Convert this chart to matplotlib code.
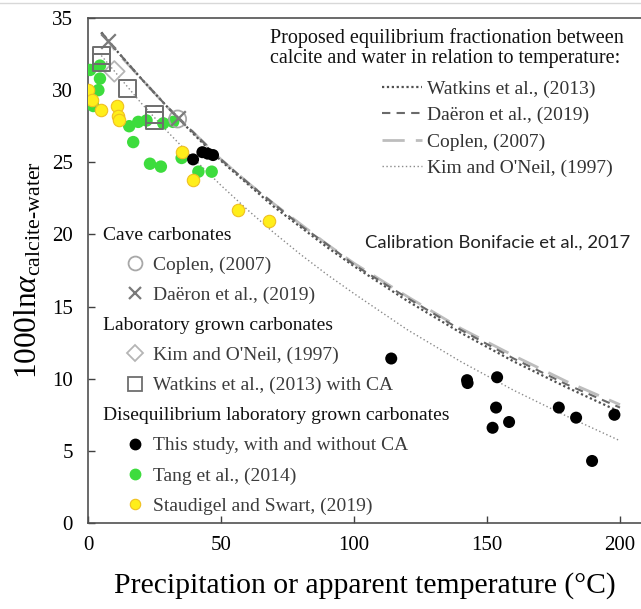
import matplotlib
matplotlib.use("Agg")
import matplotlib.pyplot as plt
from matplotlib.lines import Line2D

plt.rcParams['font.family'] = 'Liberation Serif'
plt.rcParams['mathtext.fontset'] = 'custom'
plt.rcParams['mathtext.rm'] = 'Liberation Serif'
plt.rcParams['mathtext.it'] = 'Liberation Serif:italic'

# equilibrium curves
curve_T = [5, 10, 20, 30, 40, 50, 60, 70, 80, 90, 100, 120, 140, 160, 180, 200]
watkins_curve = [34.0, 32.9, 30.8, 28.8, 26.9, 25.1, 23.5, 21.9, 20.5, 19.1, 17.8, 15.4, 13.2, 11.2, 9.4, 7.7]
daeron_curve = [34.0, 32.9, 30.8, 28.8, 27.0, 25.2, 23.6, 22.1, 20.6, 19.3, 17.9, 15.6, 13.4, 11.4, 9.6, 8.0]
coplen_curve = [34.0, 32.8, 30.8, 28.8, 27.0, 25.2, 23.6, 22.1, 20.7, 19.3, 18.0, 15.7, 13.5, 11.6, 9.8, 8.2]
kim_curve = [32.4, 31.3, 29.1, 27.1, 25.2, 23.4, 21.7, 20.1, 18.6, 17.2, 15.9, 13.4, 11.2, 9.2, 7.4, 5.7]

# cave carbonates
coplen_T = [33.7]
coplen_y = [28.0]
daeron_T = [7.6, 33.7]
daeron_y = [33.4, 28.1]

# laboratory grown carbonates
kim_T = [9.9]
kim_y = [31.3]
watkins_T = [4.9, 4.9, 14.9, 24.9, 24.9]
watkins_y = [32.4, 31.9, 30.1, 28.3, 27.9]

# disequilibrium laboratory grown carbonates
study_T = [39.5, 43, 45, 47, 114, 142.5, 142.7, 153.8, 153.4, 152.1, 158.3, 177, 183.5, 197.9, 189.5]
study_y = [25.2, 25.7, 25.6, 25.5, 11.4, 9.9, 9.7, 10.1, 8.0, 6.6, 7.0, 8.0, 7.3, 7.5, 4.3]
tang_T = [0.8, 4.5, 4.5, 3.9, 2.0, 15.5, 18.9, 22.0, 28.3, 32.0, 17.0, 23.3, 27.4, 35.2, 41.5, 46.5]
tang_y = [31.4, 31.7, 30.8, 30.0, 28.9, 27.5, 27.8, 27.9, 27.7, 27.8, 26.4, 24.9, 24.7, 25.3, 24.35, 24.35]
staud_T = [0.1, 1.4, 4.9, 10.8, 11.4, 11.8, 35.2, 39.6, 56.5, 68.0]
staud_y = [30.0, 29.3, 28.6, 28.9, 28.2, 27.9, 25.7, 23.8, 21.7, 20.9]

fig = plt.figure(figsize=(6.41, 6.09), dpi=100)
ax = fig.add_axes([88 / 641, 1 - 523 / 609, (641 - 88) / 641, (523 - 18) / 609])

# curves
l_wat, = ax.plot(curve_T, watkins_curve, color='#505050', lw=1.6, ls=(0, (1, 1.2)), zorder=2)
l_dae, = ax.plot(curve_T, daeron_curve, color='#6a6a6a', lw=1.5, ls=(0, (4, 3)), zorder=2)
l_cop, = ax.plot(curve_T, coplen_curve, color='#bdbdbd', lw=2.0, ls=(0, (8, 4)), zorder=1)
l_kim, = ax.plot(curve_T, kim_curve, color='#8a8a8a', lw=1.0, ls=(0, (1, 1.8)), zorder=2)

# points
ax.scatter(tang_T, tang_y, s=80, color='#3ddc3d', edgecolors='none', zorder=3)
ax.scatter(staud_T, staud_y, s=80, color='#ffee1a', edgecolors='#f0c020', linewidths=0.8, zorder=4)
ax.scatter(study_T, study_y, s=75, color='black', edgecolors='none', zorder=5)
ax.scatter(coplen_T, coplen_y, s=150, facecolors='none', edgecolors='#a8a8a8', linewidths=1.3, zorder=6)
ax.scatter(daeron_T, daeron_y, s=110, marker='x', color='#7a7a7a', linewidths=1.6, zorder=6)
ax.scatter(kim_T, kim_y, s=110, marker='D', facecolors='none', edgecolors='#b5b5b5', linewidths=1.3, zorder=6)
ax.scatter(watkins_T, watkins_y, s=150, marker='s', facecolors='none', edgecolors='#6e6e6e', linewidths=1.4, zorder=6)

ax.set_xlim(0, 553 / 2.66)
ax.set_ylim(0, 35)
ax.set_xticks([0, 50, 100, 150, 200])
ax.set_yticks(range(0, 36, 5))
ax.tick_params(direction='in', length=5, width=1, color='#404040', labelsize=15)
ax.tick_params(axis='x', pad=9)
ax.tick_params(axis='y', pad=11)
ax.spines['right'].set_visible(False)
for sp in ['left', 'bottom', 'top']:
    ax.spines[sp].set_color('#505050')
    ax.spines[sp].set_linewidth(1.2)

ax.set_xlabel('Precipitation or apparent temperature (°C)', fontsize=21.3, labelpad=13)
ax.set_ylabel(r'1000ln$\alpha_{\mathregular{calcite\text{-}water}}$', fontsize=22.5, labelpad=6)

# line legend
ax.text(0.329, 0.9405, 'Proposed equilibrium fractionation between\ncalcite and water in relation to temperature:',
        transform=ax.transAxes, fontsize=14.5, va='center', ha='left', linespacing=1.08, color='#111111')
leg1 = ax.legend([l_wat, l_dae, l_cop, l_kim],
                 ['Watkins et al., (2013)', 'Daëron et al., (2019)', 'Coplen, (2007)', "Kim and O'Neil, (1997)"],
                 loc='center left', bbox_to_anchor=(0.532, 0.781), frameon=False, fontsize=14,
                 handlelength=2.06, handletextpad=0.25, labelspacing=0.44, borderpad=0, borderaxespad=0)
for t in leg1.get_texts():
    t.set_color('#333333')
ax.add_artist(leg1)

# marker legend with group headers
blank = Line2D([], [], ls='none', marker=None)
handles = [
    blank,
    Line2D([], [], ls='none', marker='o', mfc='none', mec='#a8a8a8', ms=10, mew=1.3),
    Line2D([], [], ls='none', marker='x', color='#7a7a7a', ms=8, mew=1.6),
    blank,
    Line2D([], [], ls='none', marker='D', mfc='none', mec='#b5b5b5', ms=8, mew=1.3),
    Line2D([], [], ls='none', marker='s', mfc='none', mec='#6e6e6e', ms=10, mew=1.3),
    blank,
    Line2D([], [], ls='none', marker='o', color='black', ms=7.5),
    Line2D([], [], ls='none', marker='o', color='#3ddc3d', ms=7.5),
    Line2D([], [], ls='none', marker='o', mfc='#ffee1a', mec='#f0c020', ms=7.5, mew=0.8),
]
labels = ['Cave carbonates', 'Coplen, (2007)', 'Daëron et al., (2019)',
          'Laboratory grown carbonates', "Kim and O'Neil, (1997)", 'Watkins et al., (2013) with CA',
          'Disequilibrium laboratory grown carbonates', 'This study, with and without CA',
          'Tang et al., (2014)', 'Staudigel and Swart, (2019)']
leg2 = ax.legend(handles, labels, loc='center left', bbox_to_anchor=((125 - 88) / 553, 0.302),
                 frameon=False, fontsize=14, handlelength=1.0, handletextpad=0.45,
                 labelspacing=0.64, borderpad=0, borderaxespad=0)
for i, t in enumerate(leg2.get_texts()):
    if i in (0, 3, 6):
        t.set_color('#111111')
        t.set_x(-50)
    else:
        t.set_color('#3c3c3c')

ax.text(104, 19.4, 'Calibration Bonifacie et al., 2017', family='Lato', fontsize=13.3,
        va='center', ha='left', color='#222222')

fig.add_artist(Line2D([0, 1], [1 - 3 / 609] * 2, color='#d8d8d8', lw=1, transform=fig.transFigure))

fig.savefig('out.png', dpi=100)
